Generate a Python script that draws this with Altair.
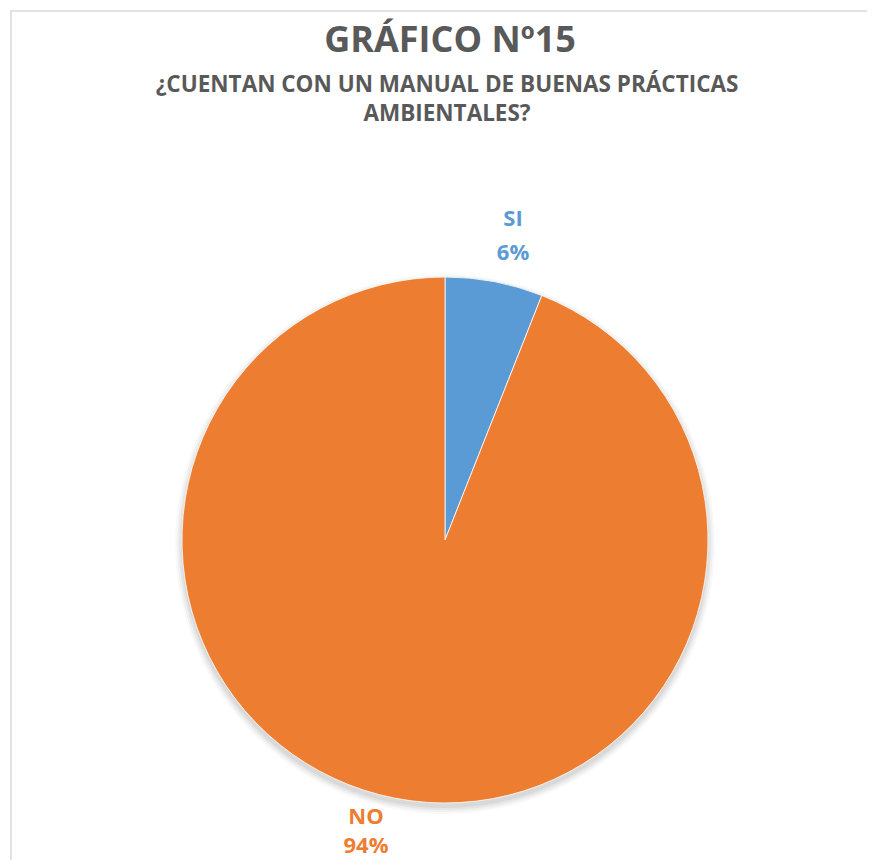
import altair as alt
import pandas as pd

categorias = ["SI", "NO"]
porcentajes = [6, 94]
colores = ["#5B9BD5", "#ED7D31"]
orden = [1, 2]

titulo = "GRÁFICO Nº15"
subtitulo = ["¿CUENTAN CON UN MANUAL DE BUENAS PRÁCTICAS", "AMBIENTALES?"]

df = pd.DataFrame({"categoria": categorias, "pct": porcentajes, "orden": orden})

W, H = 859, 852
CX, CY, R = 437, 532, 263
FONT = "Open Sans"
GRIS = "#595959"

color_scale = alt.Scale(domain=categorias, range=colores)

base = alt.Chart(df)

frame = alt.Chart(pd.DataFrame({"a": [0]})).mark_rect(
    fill="white", stroke="#D9D9D9", strokeWidth=1.5
).encode(x=alt.value(3), x2=alt.value(W + 40), y=alt.value(3), y2=alt.value(H + 40))

shadow = []
for dr, op in [(7, 0.025), (5, 0.035), (3, 0.045), (1, 0.05)]:
    shadow.append(
        base.mark_arc(radius=R + dr, color="black", opacity=op).encode(
            theta=alt.Theta("pct:Q", stack=True),
            order=alt.Order("orden:Q"),
            x=alt.value(CX),
            y=alt.value(CY + 4),
        )
    )

pie = base.mark_arc(radius=R, stroke="white", strokeWidth=0.8).encode(
    theta=alt.Theta("pct:Q", stack=True),
    order=alt.Order("orden:Q"),
    color=alt.Color("categoria:N", scale=color_scale, legend=None),
    x=alt.value(CX),
    y=alt.value(CY),
)

title_layer = alt.Chart(pd.DataFrame({"t": [titulo]})).mark_text(
    font=FONT, fontSize=36, fontWeight="bold", color=GRIS, baseline="alphabetic", align="center"
).encode(text="t:N", x=alt.value(442), y=alt.value(44))

SUB = 22.5
sub1 = alt.Chart(pd.DataFrame({"t": [subtitulo[0]]})).mark_text(
    font=FONT, fontSize=SUB, fontWeight="bold", color=GRIS, baseline="alphabetic", align="center"
).encode(text="t:N", x=alt.value(439), y=alt.value(84))
sub2 = alt.Chart(pd.DataFrame({"t": [subtitulo[1]]})).mark_text(
    font=FONT, fontSize=SUB, fontWeight="bold", color=GRIS, baseline="alphabetic", align="center"
).encode(text="t:N", x=alt.value(439), y=alt.value(113))

LAB = 22
def etiqueta(cat, x, y1, y2):
    b = base.transform_filter(alt.datum.categoria == cat)
    l1 = b.mark_text(font=FONT, fontSize=LAB, fontWeight="bold", baseline="alphabetic", align="center").encode(
        text="categoria:N",
        color=alt.Color("categoria:N", scale=color_scale, legend=None),
        x=alt.value(x), y=alt.value(y1),
    )
    l2 = b.transform_calculate(lab="format(datum.pct, 'd') + '%'").mark_text(
        font=FONT, fontSize=LAB, fontWeight="bold", baseline="alphabetic", align="center"
    ).encode(
        text="lab:N",
        color=alt.Color("categoria:N", scale=color_scale, legend=None),
        x=alt.value(x), y=alt.value(y2),
    )
    return [l1, l2]

labels = etiqueta("SI", 505, 218, 252) + etiqueta("NO", 358, 816, 845)

chart = alt.layer(frame, *shadow, pie, title_layer, sub1, sub2, *labels).properties(
    width=W, height=H, autosize=alt.AutoSizeParams(type="none"), padding=0
).configure_view(stroke=None)

chart.save("out.html", embed_options={"renderer": "svg", "actions": False})
